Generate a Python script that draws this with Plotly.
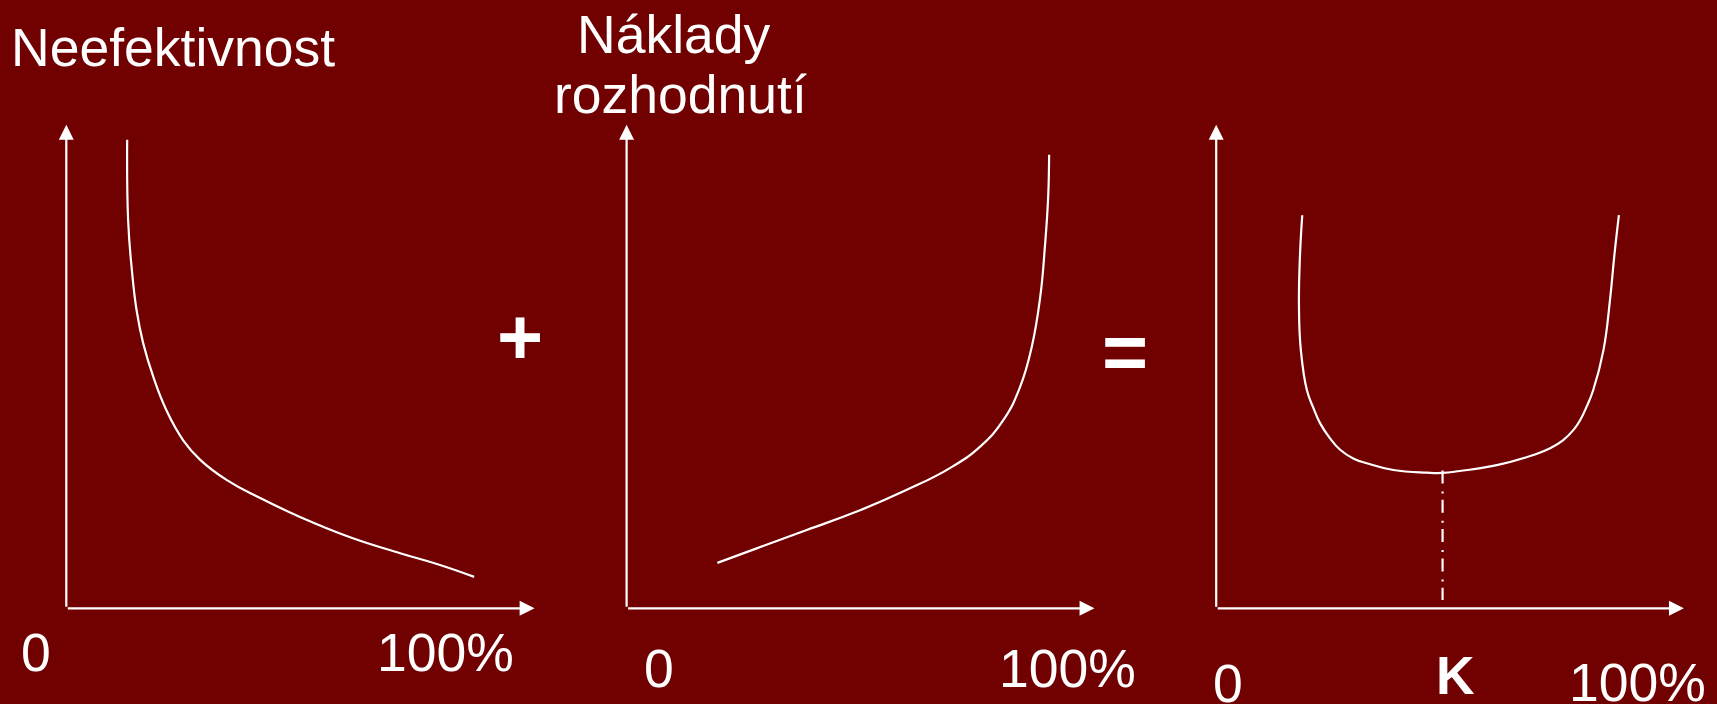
import plotly.graph_objects as go

# ---------------- data (axis units 0..100) ----------------
# Panel 1: Neefektivnost (decreasing)
ineff_x = [13.0, 13.2, 14.0, 15.0, 16.4, 18.6, 21.4, 25.0, 28.6, 34.3, 41.4, 49.9, 60.6, 71.3, 79.8, 87.1]
ineff_y = [96.9, 80.3, 70.0, 61.7, 54.9, 47.8, 40.9, 34.7, 30.7, 26.5, 22.8, 18.9, 14.7, 11.4, 8.96, 6.5]

# Panel 2: Náklady rozhodnutí (increasing)
cost_x = [19.4, 27.8, 38.5, 49.2, 59.9, 69.1, 75.5, 80.5, 84.1, 86.6, 88.4, 89.4, 90.1, 90.3]
cost_y = [9.4, 12.4, 16.2, 20.0, 24.5, 29.0, 33.4, 38.9, 45.8, 54.1, 64.4, 74.8, 85.1, 93.8]

# Panel 3: sum (U shape)
total_x = [18.4, 17.9, 17.7, 18.1, 19.4, 20.8, 22.2, 24.3, 26.5, 29.3, 32.2, 37.9, 45.0, 48.4, 52.1,
           60.0, 67.8, 71.4, 74.2, 76.4, 77.8, 79.2, 80.6, 82.8, 84.2, 85.1, 86.1]
total_y = [81.3, 72.7, 62.4, 53.4, 45.1, 41.4, 38.3, 35.2, 32.8, 31.0, 30.0, 28.6, 28.05, 28.0, 28.4,
           29.6, 31.7, 33.1, 34.8, 36.9, 38.9, 41.7, 45.1, 53.4, 63.8, 72.7, 81.3]

# optimum K (dash-dot drop line)
k_x = [48.4, 48.4]
k_y = [28.5, 1.7]

tick_labels = ["0", "100%"]
optimum_label = "K"
titles = ["Neefektivnost", "Náklady", "rozhodnutí"]
operators = ["+", "="]

# ---------------- layout helpers ----------------
W, H = 1717, 704
BG = "#710000"
FONT = "Liberation Sans, Arial, sans-serif"
WHITE = "#ffffff"

# pixel geometry of the three panels: origin x, arrow-tip x, origin y, arrow-tip y
panels = [
    (66.3, 534.6, 608.3, 124.8),
    (626.6, 1094.5, 608.3, 124.8),
    (1216.2, 1683.9, 608.3, 124.8),
]

def px(x):
    return x / W

def py(y):
    return 1 - y / H

fig = go.Figure()

layout = dict(
    width=W, height=H,
    margin=dict(l=0, r=0, t=0, b=0),
    paper_bgcolor=BG, plot_bgcolor=BG,
    showlegend=False,
)

for i, (ox, tx, oy, ty) in enumerate(panels):
    sfx = "" if i == 0 else str(i + 1)
    layout["xaxis" + sfx] = dict(domain=[px(ox), px(tx)], range=[0, 100], visible=False,
                                 anchor="y" + sfx, fixedrange=True)
    layout["yaxis" + sfx] = dict(domain=[py(oy), py(ty)], range=[0, 100], visible=False,
                                 anchor="x" + sfx, fixedrange=True)

fig.update_layout(**layout)

series = [(ineff_x, ineff_y), (cost_x, cost_y), (total_x, total_y)]
for i, (xs, ys) in enumerate(series):
    sfx = "" if i == 0 else str(i + 1)
    fig.add_trace(go.Scatter(x=xs, y=ys, mode="lines", xaxis="x" + sfx, yaxis="y" + sfx,
                             line=dict(color=WHITE, width=2.2, shape="spline", smoothing=1.3),
                             hoverinfo="skip"))

fig.add_trace(go.Scatter(x=k_x, y=k_y, mode="lines", xaxis="x3", yaxis="y3",
                         line=dict(color=WHITE, width=2.2, dash="13px,8px,2px,6.3px"),
                         hoverinfo="skip"))

annotations = []
# axis arrows
for i in range(3):
    sfx = "" if i == 0 else str(i + 1)
    for (hx, hy) in [(100, 0), (0, 100)]:
        annotations.append(dict(
            x=hx, y=hy, ax=0, ay=0, xref="x" + sfx, yref="y" + sfx,
            axref="x" + sfx, ayref="y" + sfx, text="", showarrow=True,
            arrowhead=2, arrowsize=1.36, arrowwidth=2.2, arrowcolor=WHITE, standoff=0,
        ))

def label(text, cx, cy, size=53.5, bold=False):
    annotations.append(dict(
        x=px(cx), y=py(cy), xref="paper", yref="paper", text=("<b>%s</b>" % text) if bold else text,
        showarrow=False, xanchor="center", yanchor="middle",
        font=dict(family=FONT, size=size, color=WHITE),
    ))

# titles
label(titles[0], 173, 48)
label(titles[1], 674, 35)
label(titles[2], 680, 94)

# tick labels
label(tick_labels[0], 36, 652)
label(tick_labels[1], 445.6, 652)
label(tick_labels[0], 659, 668)
label(tick_labels[1], 1067, 668)
label(tick_labels[0], 1228, 683)
label(tick_labels[1], 1637, 682)
label(optimum_label, 1455, 675, bold=True)

# operators
label(operators[0], 520, 336, size=79, bold=True)
label(operators[1], 1125, 351, size=79, bold=True)

fig.update_layout(annotations=annotations)

fig.write_html("out.html", config={"displayModeBar": False},
               post_script="document.body.style.margin='0px';document.body.style.overflow='hidden';")
